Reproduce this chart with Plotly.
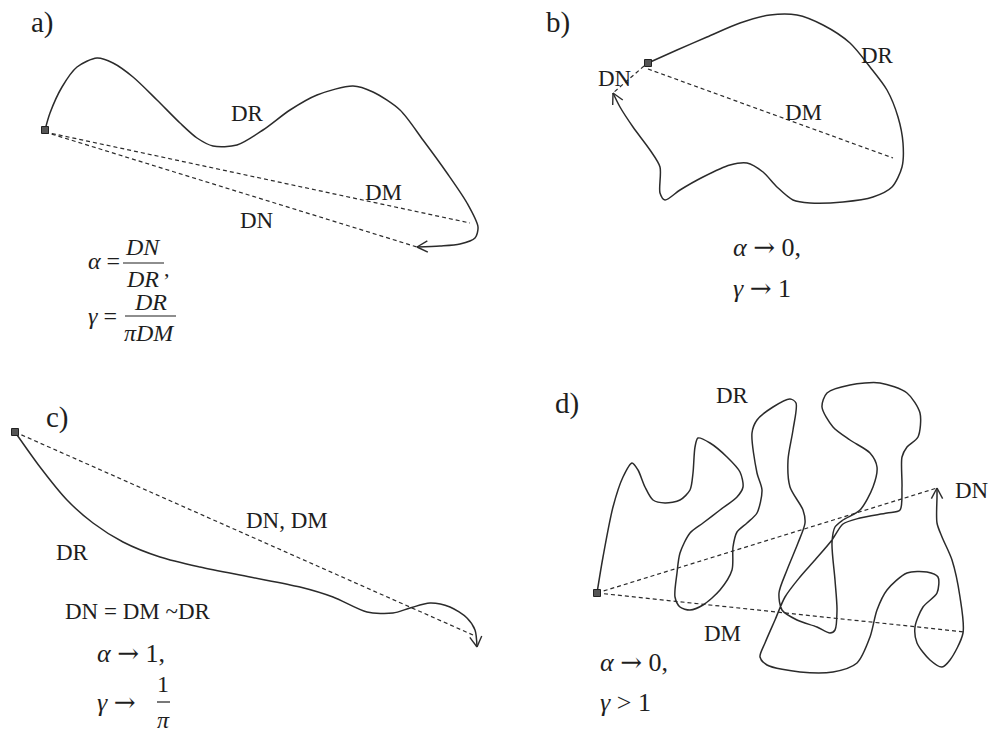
import math
import plotly.graph_objects as go

# ---- trajectories (screen units: x to the right, y downward) ----
# a) wavy path
a_x = [45, 50, 62, 77, 97, 113, 133, 157, 180, 197, 213, 237, 263, 290, 317, 353, 373, 400, 423, 447, 467, 478, 475, 460, 440, 417]
a_y = [130, 113, 87, 67, 58, 63, 77, 100, 123, 138, 146, 145, 130, 110, 95, 86, 92, 110, 140, 173, 203, 227, 238, 244, 246, 247]
a_dm_end = (470, 223)

# b) closed-ish loop
b_x = [648, 677, 707, 740, 770, 797, 823, 850, 870, 887, 898, 903, 902, 892, 873, 843, 810, 793, 777, 763, 747, 730, 703, 680, 665, 660, 660, 650, 633, 620, 613]
b_y = [63, 50, 37, 23, 15, 15, 25, 43, 67, 90, 117, 143, 167, 187, 197, 202, 203, 200, 187, 172, 163, 165, 177, 190, 200, 193, 167, 150, 127, 107, 93]
b_dm_end = (893, 158)

# c) almost straight path
c_x = [15, 40, 67, 93, 123, 160, 200, 250, 300, 333, 367, 393, 410, 430, 450, 467, 475, 477]
c_y = [432, 467, 500, 523, 542, 557, 567, 577, 587, 597, 612, 613, 608, 603, 607, 618, 630, 647]

# d) tortuous path
d_x = [597, 603, 613, 623, 632, 638, 645, 653, 665, 680, 690, 693, 695, 698, 710, 727, 740, 743, 737, 720,
       703, 690, 680, 677, 675, 680, 690, 703, 720, 732, 733, 737, 747, 757, 762, 757, 752, 757, 773, 790,
       796, 793, 788, 790, 803, 805, 798, 787, 779, 782, 797, 817, 830, 835, 837, 835, 832, 835, 843, 860,
       873, 877, 870, 850, 833, 822, 827, 850, 880, 907, 920, 918, 907, 902, 902, 900, 887, 860, 843, 832,
       815, 800, 785, 775, 765, 760, 767, 800, 833, 857, 870, 877, 887, 907, 927, 938, 937, 923, 915, 917,
       930, 942, 950, 963, 960, 952, 942, 937, 937, 937]
d_y = [593, 557, 507, 477, 463, 470, 487, 500, 503, 500, 490, 473, 447, 438, 443, 457, 472, 487, 497, 510,
       523, 533, 553, 573, 597, 607, 610, 605, 590, 570, 547, 532, 523, 513, 490, 473, 433, 420, 407, 399,
       403, 430, 460, 487, 510, 523, 543, 570, 593, 610, 620, 627, 633, 630, 610, 580, 543, 527, 520, 510,
       487, 467, 453, 440, 427, 407, 393, 385, 383, 393, 413, 437, 447, 457, 487, 510, 513, 518, 524, 540,
       560, 577, 597, 620, 643, 657, 665, 672, 672, 663, 637, 610, 590, 573, 572, 577, 593, 607, 627, 643,
       660, 667, 660, 633, 597, 560, 537, 523, 497, 488]
d_dm_end = (965, 632)

# ---- labels ----
panel_labels = ["a)", "b)", "c)", "d)"]
panel_pos = [(42, 22), (558, 22), (57, 417), (567, 403)]

path_labels = ["DR", "DM", "DN", "DR", "DM", "DN", "DN, DM", "DR", "DR", "DN", "DM"]
path_label_pos = [(247, 113), (383, 192), (257, 220), (877, 55), (803, 112), (615, 78),
                  (287, 520), (72, 552), (732, 395), (972, 490), (722, 633)]

INK = "#1e1e1e"
SERIF = "Liberation Serif"
ARROW = '<span style="font-family:DejaVu Serif">→</span>'

fig = go.Figure()


def add_path(xs, ys):
    fig.add_trace(go.Scatter(x=xs, y=ys, mode="lines",
                             line=dict(color="#2b2b2b", width=1.5, shape="spline", smoothing=0.8),
                             hoverinfo="skip"))


def add_dash(p0, p1):
    fig.add_trace(go.Scatter(x=[p0[0], p1[0]], y=[p0[1], p1[1]], mode="lines",
                             line=dict(color="#2b2b2b", width=1.2, dash="4px,3px"),
                             hoverinfo="skip"))


def add_head(xs, ys, size=12, spread=28):
    # open arrowhead oriented along the last segment of the path
    tx, ty = xs[-1], ys[-1]
    dx, dy = tx - xs[-2], ty - ys[-2]
    ang = math.atan2(dy, dx)
    hx, hy = [], []
    for s in (spread, -spread):
        a = ang + math.pi + math.radians(s)
        hx += [tx + size * math.cos(a), tx, None]
        hy += [ty + size * math.sin(a), ty, None]
    fig.add_trace(go.Scatter(x=hx, y=hy, mode="lines",
                             line=dict(color="#2b2b2b", width=1.4), hoverinfo="skip"))


def add_start(x, y):
    fig.add_trace(go.Scatter(x=[x], y=[y], mode="markers",
                             marker=dict(symbol="square", size=7, color="#555555",
                                         line=dict(color="#222222", width=1)),
                             hoverinfo="skip"))


# a)
add_dash((a_x[0], a_y[0] + 2), a_dm_end)
add_dash((a_x[0], a_y[0] + 2), (a_x[-1], a_y[-1]))
add_path(a_x, a_y)
add_head(a_x, a_y)
add_start(a_x[0], a_y[0])

# b)
add_dash((b_x[0], b_y[0] + 6), b_dm_end)
add_dash((b_x[0] - 4, b_y[0] + 3), (b_x[-1], b_y[-1]))
add_path(b_x, b_y)
add_head(b_x, b_y)
add_start(b_x[0], b_y[0])

# c)
add_dash((c_x[0], c_y[0]), (c_x[-1] - 4, c_y[-1] - 12))
add_path(c_x, c_y)
add_head(c_x, c_y, size=12, spread=30)
add_start(c_x[0], c_y[0])

# d)
add_dash((d_x[0], d_y[0]), (d_x[-1], d_y[-1]))
add_dash((d_x[0], d_y[0]), d_dm_end)
add_path(d_x, d_y)
add_head(d_x, d_y)
add_start(d_x[0], d_y[0])

ann = []
for t, (x, y) in zip(panel_labels, panel_pos):
    ann.append(dict(x=x, y=y, text=t, font=dict(family=SERIF, size=29, color=INK)))
for t, (x, y) in zip(path_labels, path_label_pos):
    ann.append(dict(x=x, y=y, text=t, font=dict(family=SERIF, size=23, color=INK)))


def txt(x, y, t, size=24, anchor="center"):
    ann.append(dict(x=x, y=y, text=t, xanchor=anchor,
                    font=dict(family=SERIF, size=size, color=INK)))


shapes = []


def bar(x0, x1, y):
    shapes.append(dict(type="line", xref="x", yref="y", x0=x0, x1=x1, y0=y, y1=y,
                       line=dict(color=INK, width=1.2)))


# a) definitions
txt(86, 261, "<i>α</i> =", anchor="left")
txt(143, 247, "<i>DN</i>")
bar(123, 164, 263)
txt(142, 279, "<i>DR</i>")
txt(167, 268, ",", size=22)
txt(86, 316, "<i>γ</i> =", anchor="left")
txt(150, 302, "<i>DR</i>")
bar(125, 176, 316)
txt(149, 333, "<i>πDM</i>")

# b)
txt(731, 247, "<i>α</i> " + ARROW + " 0,", size=26, anchor="left")
txt(731, 288, "<i>γ</i> " + ARROW + " 1", size=26, anchor="left")

# c)
txt(138, 611, "DN = DM ~DR", size=23)
txt(95, 653, "<i>α</i> " + ARROW + " 1,", size=26, anchor="left")
txt(95, 702, "<i>γ</i> " + ARROW, size=26, anchor="left")
txt(163, 684, "1", size=24)
bar(157, 170, 702)
txt(163, 720, "<i>π</i>", size=24)

# d)
txt(598, 662, "<i>α</i> " + ARROW + " 0,", size=26, anchor="left")
txt(598, 702, "<i>γ</i> > 1", size=26, anchor="left")

for a in ann:
    a.update(xref="x", yref="y", showarrow=False)
    a.setdefault("xanchor", "center")
    a["yanchor"] = "middle"

fig.update_layout(
    width=990, height=744,
    margin=dict(l=0, r=0, t=0, b=0),
    paper_bgcolor="white", plot_bgcolor="white",
    showlegend=False,
    xaxis=dict(range=[0, 990], visible=False, fixedrange=True),
    yaxis=dict(range=[744, 0], visible=False, fixedrange=True),
    annotations=ann, shapes=shapes,
)

fig.write_html("out.html")
